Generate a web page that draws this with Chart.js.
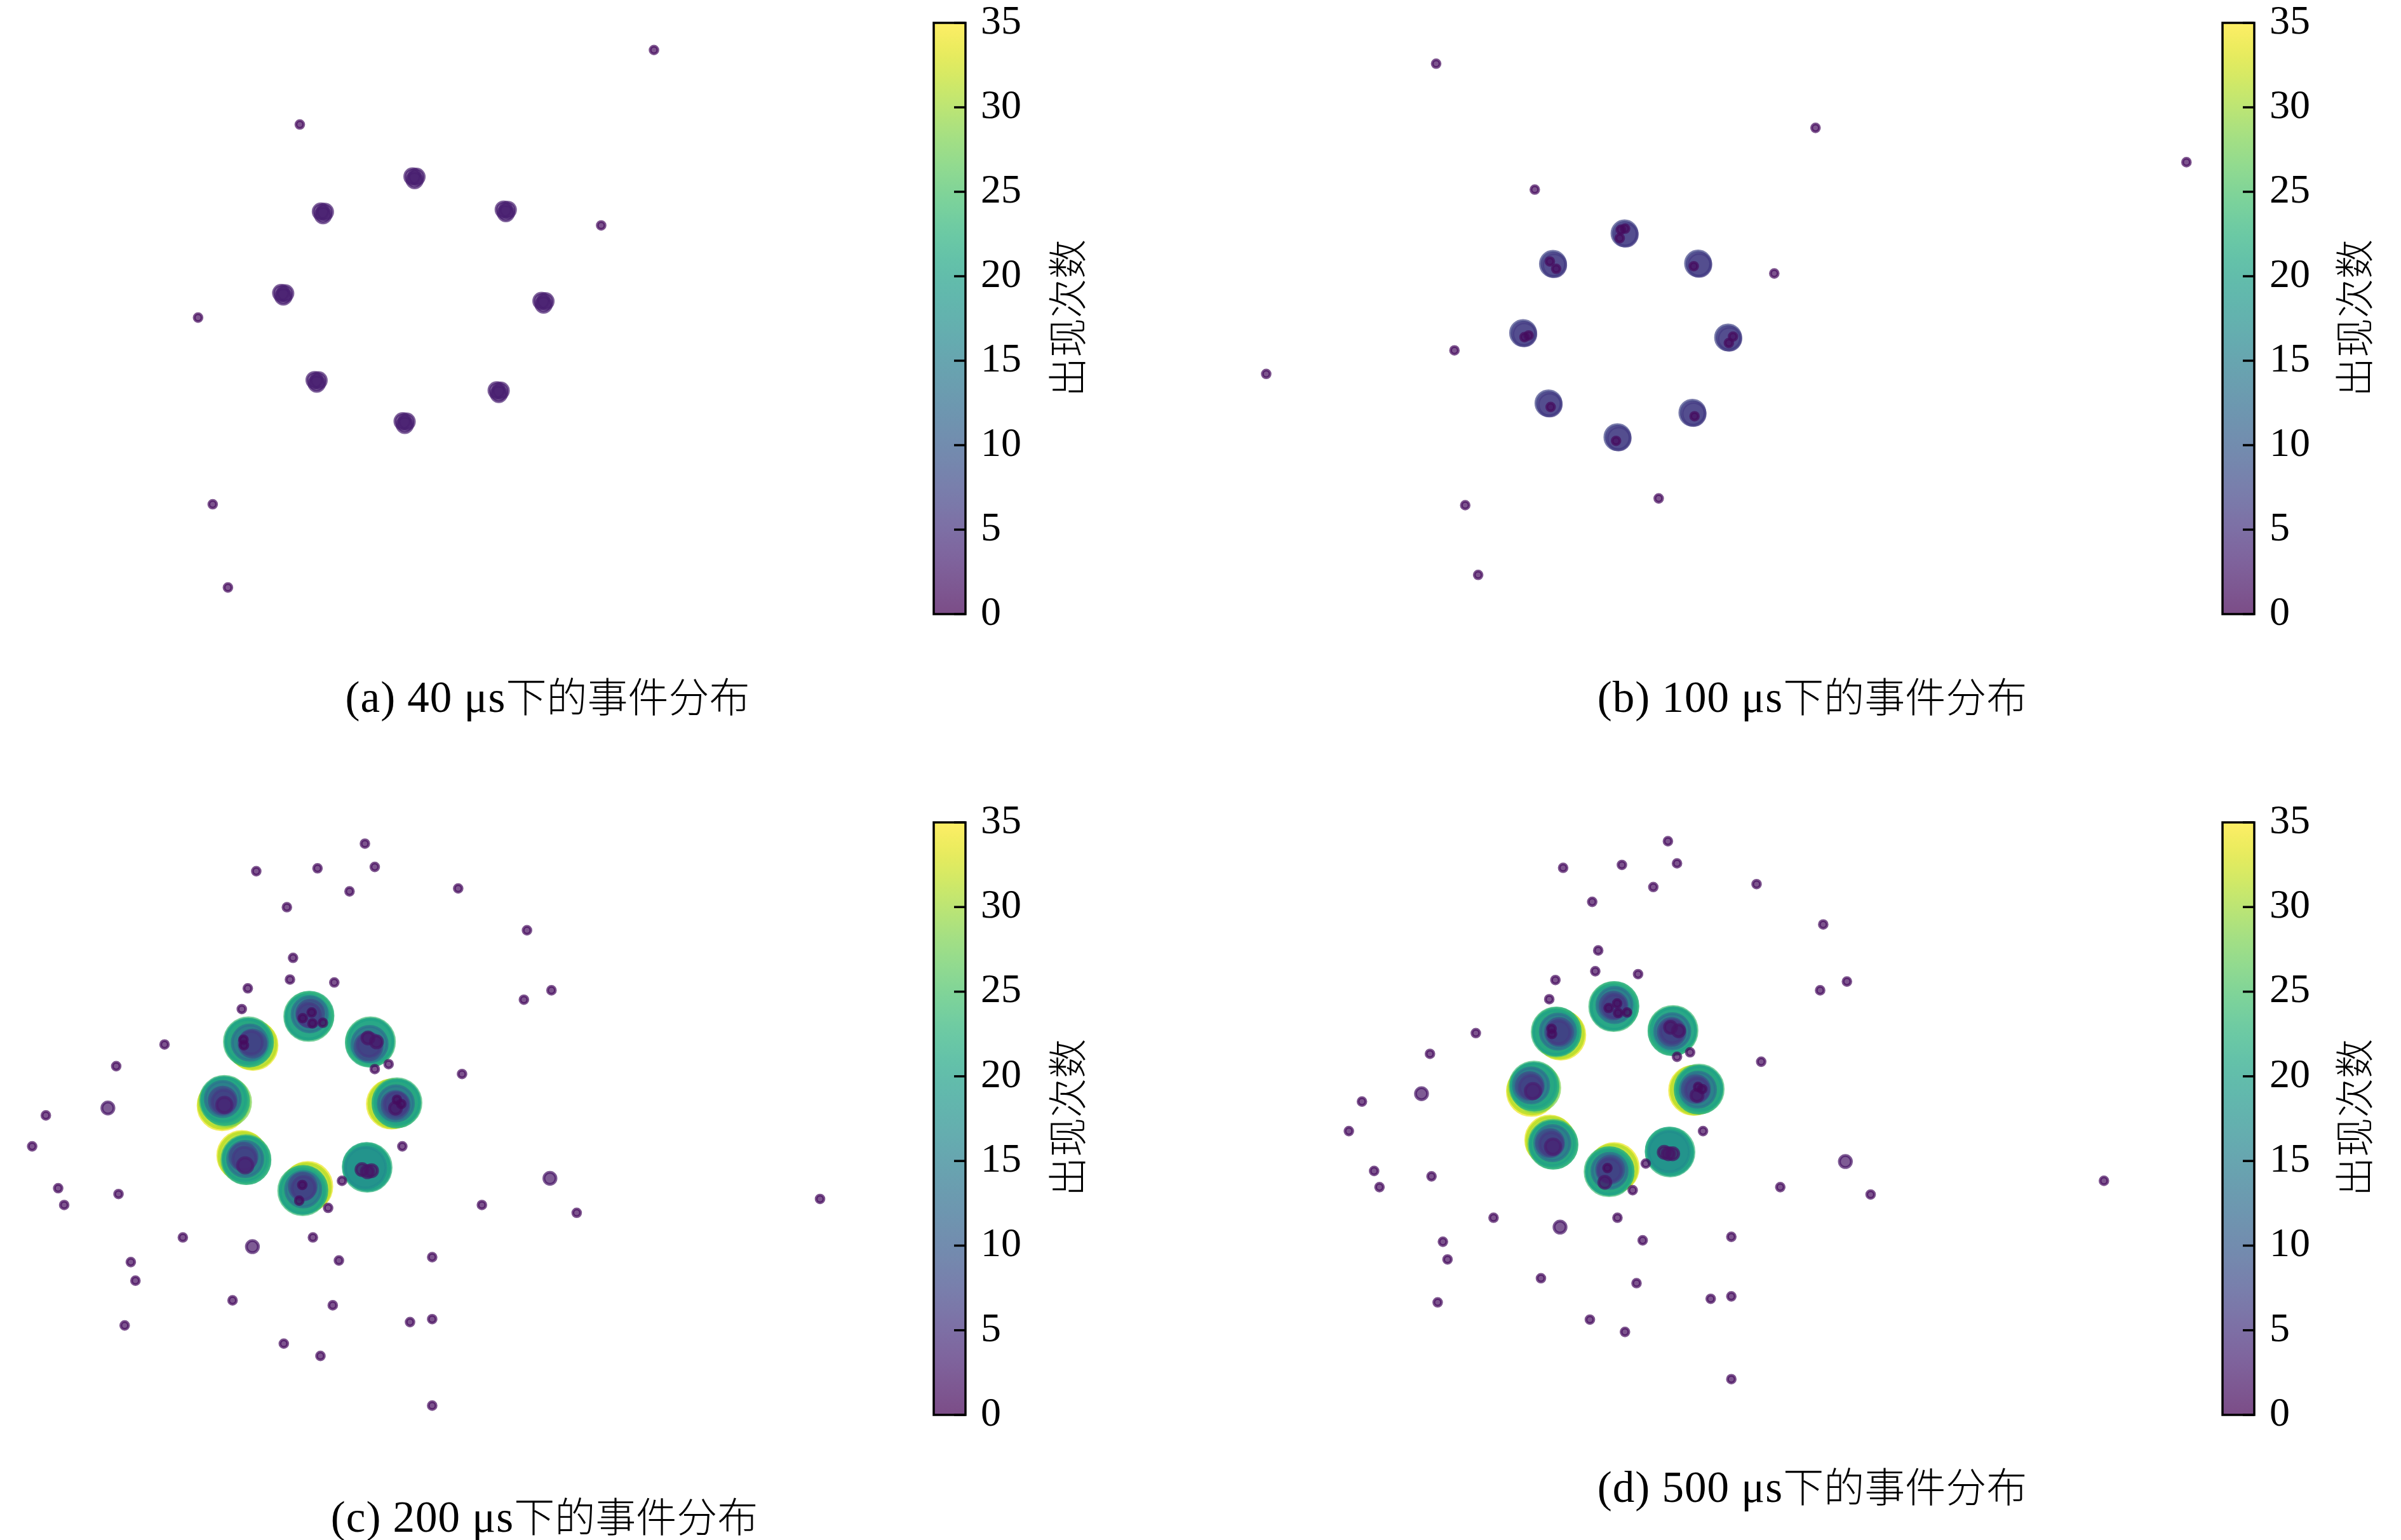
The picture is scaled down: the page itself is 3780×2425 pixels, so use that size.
<!DOCTYPE html>
<html><head><meta charset="utf-8">
<script src="https://cdn.jsdelivr.net/npm/chart.js@4.4.1/dist/chart.umd.min.js"></script>
<style>
html,body{margin:0;padding:0;background:#fff;}
body{width:3780px;height:2425px;position:relative;overflow:hidden;}
canvas{position:absolute;}
.cap{position:absolute;font-family:"Noto Sans CJK SC",sans-serif;font-size:64px;font-weight:300;color:#000;white-space:nowrap;transform:translate(-50%,-50%);line-height:1;}
.cap .lat{font-family:"Liberation Serif",serif;font-weight:400;font-size:69px;letter-spacing:1px;}
.cbl{position:absolute;font-family:"Noto Sans CJK SC",sans-serif;font-weight:300;font-size:62px;color:#000;white-space:nowrap;transform:translate(-50%,-50%) rotate(-90deg);line-height:1;}
</style></head><body>
<canvas id="sa" width="1890" height="1210" style="left:0;top:0"></canvas>
<canvas id="sb" width="1890" height="1210" style="left:1890px;top:0"></canvas>
<canvas id="sc" width="1890" height="1215" style="left:0;top:1210px"></canvas>
<canvas id="sd" width="1890" height="1215" style="left:1890px;top:1210px"></canvas>
<canvas id="ca" width="200" height="1051" style="left:1440px;top:-24px"></canvas>
<canvas id="cb" width="200" height="1051" style="left:3469px;top:-24px"></canvas>
<canvas id="cc" width="200" height="1053" style="left:1440px;top:1235px"></canvas>
<canvas id="cd" width="200" height="1053" style="left:3469px;top:1235px"></canvas>
<div class="cbl" style="left:1677px;top:501px"></div>
<div class="cbl" style="left:3703px;top:501px"></div>
<div class="cbl" style="left:1677px;top:1760px"></div>
<div class="cbl" style="left:3703px;top:1760px"></div>
<div class="cap" id="capa" style="left:862px;top:1097px"></div>
<div class="cap" id="capb" style="left:2853px;top:1097px"></div>
<div class="cap" id="capc" style="left:857px;top:2388px"></div>
<div class="cap" id="capd" style="left:2853px;top:2341px"></div>
<script>
// ---------- data ----------
const CAPTIONS = ['(a) 40 μs下的事件分布','(b) 100 μs下的事件分布','(c) 200 μs下的事件分布','(d) 500 μs下的事件分布'];
const CBAR_LABEL = '出现次数';
const CBAR_MIN = 0, CBAR_MAX = 35, CBAR_STEP = 5;

// panel (a): isolated events, then 8 clusters (3 overlapping events each)
const A_X = [424.9,194.8,390.6,128.7,138.2,148.1,
  268.0,270.6,269.4, 208.5,211.1,209.9, 327.3,329.9,328.7, 182.7,185.3,184.1,
  351.8,354.4,353.2, 204.4,207.0,205.8, 322.7,325.3,324.1, 261.6,264.2,263.0];
const A_Y = [32.5,80.9,146.5,206.4,327.7,381.8,
  114.7,114.9,117.0, 137.5,137.7,139.8, 136.2,136.4,138.5, 190.4,190.6,192.7,
  195.6,195.8,197.9, 247.0,247.2,249.3, 253.7,253.9,256.0, 273.8,274.0,276.1];
const A_V = [1,1,1,1,1,1, 3,3,3, 3,3,3, 3,3,3, 3,3,3, 3,3,3, 3,3,3, 3,3,3, 3,3,3];

// panel (b)
const B_X = [153.1,399.6,640.6,217.2,372.8,165.0,42.7,297.7,172.0,180.4,
  275.5,276.3,273.1,275.9,272.4, 229.0,229.8,227.0,231.1, 323.3,324.1,320.5,
  209.6,210.4,210.5,213.2, 342.8,343.6,343.3,346.0, 226.1,226.9,227.5,
  319.6,320.4,321.0, 270.9,271.7,270.0];
const B_Y = [41.4,83.1,105.4,123.2,177.7,227.7,243.0,323.9,328.3,373.6,
  151.7,152.5,149.3,148.6,154.8, 171.5,172.3,169.9,174.7, 171.3,172.1,173.0,
  216.4,217.2,219.1,218.0, 219.3,220.1,222.9,218.7, 262.1,262.9,264.5,
  268.2,269.0,270.5, 284.1,284.9,286.5];
const B_V = [1,1,1,1,1,1,1,1,1,1,
  7,6,1,1,1, 7,6,1,1, 7,6,1, 7,6,1,1, 7,6,1,1, 7,6,1, 7,6,1, 7,6,1];

// panel (c)
const C_X = [237.1,166.5,206.3,243.5,227.1,297.7,186.4,342.4,190.4,188.4,217.2,161.0,340.4,358.3,157.1,
  106.9,75.5,300.2,243.5,252.5,70.1,29.8,20.9,261.4,357.3,37.8,77.0,41.7,222.2,213.2,313.1,374.7,
  532.8,118.8,164.0,203.3,85.0,220.2,280.8,88.0,151.1,216.2,81.0,266.4,280.8,184.4,208.2,280.8,
  200.6,201.2,200.0,201.2,201.6,200.8,196.7,202.5,203.0,209.8,
  164.4,163.8,161.4,161.9,161.0,162.3,164.0,163.2,158.2,158.5,
  240.7,240.2,241.0,240.1,239.4,239.8,239.1,244.6,
  144.3,144.7,147.2,145.8,146.2,145.4,144.7,144.7,145.3,145.8,
  254.3,255.3,257.9,257.5,258.2,257.2,257.0,257.4,257.9,257.0,260.7,
  157.1,157.8,159.8,160.2,159.4,159.3,158.2,158.8,159.3,
  200.0,199.1,196.7,197.2,196.4,197.0,196.7,197.2,196.4,194.4,
  238.6,237.9,239.0,237.5,235.2,238.7,241.4];
const C_Y = [48.9,66.8,64.9,64.0,79.9,78.0,90.2,105.2,123.1,137.2,139.1,142.9,150.3,144.2,156.4,
  179.4,193.5,198.6,195.4,192.2,220.7,225.5,245.6,245.6,266.4,272.8,276.6,283.7,268.0,285.6,283.7,288.8,
  279.8,304.8,310.8,304.8,320.8,319.8,317.6,332.9,345.7,348.9,362.0,359.8,357.9,373.8,381.8,414.1,
  161.2,160.6,161.6,159.8,159.3,160.3,162.3,158.6,165.7,165.3,
  180.0,179.5,177.7,178.3,177.4,178.2,178.8,178.3,176.3,179.9,
  177.7,178.4,177.2,179.1,180.7,179.8,175.2,177.7,
  219.2,218.2,216.9,215.7,216.3,215.2,214.8,215.9,216.5,218.7,
  218.1,217.9,217.3,217.8,216.9,217.7,218.7,218.2,215.3,220.8,218.1,
  251.5,252.2,254.2,254.6,253.8,253.8,252.4,253.6,258.0,
  271.7,272.4,274.4,273.8,274.8,273.5,271.7,272.6,270.7,280.9,
  259.3,258.6,259.8,259.5,260.7,262.1,261.4];
const C_V = [1,1,1,1,1,1,1,1,1,1,1,1,1,1,1,
  1,1,1,1,1,2,1,1,1,2,1,1,1,1,1,1,1,
  1,1,2,1,1,1,1,1,1,1,1,1,1,1,1,1,
  24,22,20,13,8,6,1,1,1,1,
  34,31,24,22,20,13,8,6,1,1,
  24,22,20,13,8,6,2,2,
  34,31,28,24,22,20,13,8,6,3,
  34,31,24,22,20,13,8,6,1,2,1,
  34,31,24,22,20,13,8,6,3,
  34,31,24,22,20,13,8,6,1,1,
  23,21,20,17,2,2,2];

// panel (d)
const D_X = [303.7,235.6,273.8,309.6,294.2,361.3,254.5,404.6,258.4,256.5,284.3,230.6,402.6,420.0,226.6,
  178.9,149.1,364.3,309.6,318.1,143.6,104.9,96.4,326.5,419.0,112.8,150.1,116.3,289.3,280.8,376.7,435.4,
  587.0,190.4,233.6,270.9,157.5,287.3,344.9,160.5,221.2,283.3,154.1,331.5,344.9,253.0,275.8,344.9,
  268.5,269.0,268.1,269.0,268.3,268.8,265.2,270.7,271.3,277.2,
  234.1,233.3,231.1,231.5,230.8,232.2,233.0,232.6,228.1,228.4,
  307.0,306.6,307.3,306.5,306.1,306.4,305.4,310.6,
  215.0,215.5,217.8,216.7,216.9,216.3,214.8,213.9,214.6,216.0,
  320.4,321.4,324.0,323.6,324.3,323.2,321.9,322.6,323.3,322.6,326.0,
  226.9,227.5,229.0,229.4,228.6,228.6,227.1,227.8,229.0,
  268.8,267.9,265.5,265.9,265.2,265.8,266.2,265.8,264.4,262.7,
  305.1,304.4,305.5,304.4,301.3,304.0,306.8];
const D_Y = [47.3,64.6,62.7,61.7,77.1,75.2,86.7,101.4,118.3,131.8,133.7,137.5,144.2,138.5,150.0,
  172.0,185.5,190.6,187.4,184.5,211.4,216.5,235.7,235.7,255.5,261.6,265.1,272.1,256.8,274.1,272.1,276.9,
  268.0,292.0,298.1,292.0,307.6,306.7,304.4,319.1,331.3,334.5,347.0,344.7,343.1,358.2,366.2,396.9,
  154.8,154.3,155.3,153.8,154.2,154.6,155.7,152.7,158.9,158.6,
  173.3,172.7,171.3,171.0,171.6,171.0,171.3,171.5,169.2,172.6,
  170.3,170.9,169.9,170.8,171.3,171.0,168.3,170.5,
  209.9,208.9,207.6,206.4,206.9,206.1,206.0,206.4,207.0,209.7,
  209.2,209.0,208.4,208.9,208.0,208.8,208.4,208.8,207.0,212.5,208.4,
  241.5,242.2,244.2,244.6,243.9,243.5,243.5,244.0,245.8,
  259.4,260.1,262.1,261.7,262.4,261.5,260.7,261.2,259.7,269.0,
  249.3,248.6,249.8,249.0,249.5,250.4,250.4];
const D_V = [1,1,1,1,1,1,1,1,1,1,1,1,1,1,1,
  1,1,1,1,1,2,1,1,1,2,1,1,1,1,1,1,1,
  1,1,2,1,1,1,1,1,1,1,1,1,1,1,1,1,
  24,22,20,13,8,6,1,1,1,1,
  34,31,24,22,20,13,8,6,1,1,
  24,22,20,13,8,6,2,2,
  34,31,28,24,22,20,13,8,6,3,
  34,31,24,22,20,13,8,6,1,2,1,
  34,31,24,22,20,13,8,6,3,
  34,31,24,22,20,13,8,6,1,2,
  23,21,20,17,2,2,2];

// ---------- styling ----------
const VIRIDIS = ['#440154','#471365','#482475','#463480','#414487','#3b528b','#355f8d','#2f6c8e',
  '#2a788e','#25848e','#21918c','#1e9c89','#22a884','#2fb47c','#44bf70','#5ec962','#7ad151',
  '#9bd93c','#bddf26','#dfe318','#fde725'];
const ALPHA = 0.7;
function hex(c){return [parseInt(c.slice(1,3),16),parseInt(c.slice(3,5),16),parseInt(c.slice(5,7),16)];}
function viridis(t,a){
  t=Math.max(0,Math.min(1,t));
  const n=VIRIDIS.length-1, f=t*n, i=Math.min(n-1,Math.floor(f)), u=f-i;
  const p=hex(VIRIDIS[i]), q=hex(VIRIDIS[i+1]);
  const r=p.map((v,k)=>Math.round(v+(q[k]-v)*u));
  return 'rgba('+r[0]+','+r[1]+','+r[2]+','+a+')';
}
const BW = 4.5;
function markerR(v){ return Math.min(8.3*Math.sqrt(v), 40); }
function colorOf(c){ return c.raw ? viridis(c.raw.v/CBAR_MAX, ALPHA) : 'rgba(0,0,0,0)'; }

function makeScatter(id, X, Y, V, ymax){
  const pts = X.map((x,i)=>({x:x, y:Y[i], v:V[i]})).sort((p,q)=>q.v-p.v);
  new Chart(document.getElementById(id), {
    type:'scatter',
    data:{datasets:[{data:pts,
      pointRadius: c => c.raw ? markerR(c.raw.v)-BW/2 : 5,
      pointBorderWidth: BW,
      pointBackgroundColor: colorOf,
      pointBorderColor: colorOf,
      clip:false}]},
    options:{responsive:false, animation:false, devicePixelRatio:1, events:[],
      layout:{padding:0, autoPadding:false},
      plugins:{legend:{display:false}, tooltip:{enabled:false}},
      scales:{x:{type:'linear', min:0, max:780, display:false},
              y:{type:'linear', min:0, max:ymax, reverse:true, display:false}}}
  });
}
makeScatter('sa', A_X, A_Y, A_V, 1210/2.4231);
makeScatter('sb', B_X, B_Y, B_V, 1210/2.4231);
makeScatter('sc', C_X, C_Y, C_V, 1215/2.4231);
makeScatter('sd', D_X, D_Y, D_V, 1215/2.4231);

const framePlugin = {
  id:'cbframe',
  afterDatasetsDraw(chart){
    const ctx=chart.ctx, a=chart.chartArea, y=chart.scales.y;
    ctx.save();
    ctx.strokeStyle='#000'; ctx.lineWidth=3.5;
    y.ticks.forEach(t=>{
      const py=y.getPixelForValue(t.value);
      ctx.beginPath(); ctx.moveTo(a.right-18,py); ctx.lineTo(a.right,py); ctx.stroke();
    });
    ctx.strokeRect(a.left,a.top,a.right-a.left,a.bottom-a.top);
    ctx.restore();
  }
};
function makeCbar(id){
  new Chart(document.getElementById(id), {
    type:'bar',
    data:{labels:[''], datasets:[{data:[CBAR_MAX], barPercentage:1, categoryPercentage:1, borderWidth:0,
      backgroundColor: c => {
        const a=c.chart.chartArea; if(!a) return 'rgba(0,0,0,0)';
        const g=c.chart.ctx.createLinearGradient(0,a.bottom,0,a.top);
        for(let i=0;i<=50;i++){ g.addColorStop(i/50, viridis(i/50, ALPHA)); }
        return g;
      }}]},
    options:{responsive:false, animation:false, devicePixelRatio:1, events:[],
      layout:{padding:{left:30,right:0,top:60,bottom:60}},
      plugins:{legend:{display:false}, tooltip:{enabled:false}},
      scales:{
        x:{display:false},
        y:{position:'right', min:CBAR_MIN, max:CBAR_MAX,
           grid:{display:false, drawTicks:false}, border:{display:false},
           ticks:{stepSize:CBAR_STEP, padding:24, color:'#000',
                  font:{family:'"Liberation Serif", serif', size:64, lineHeight:1}},
           afterFit: s => { s.width = 120; }}
      }},
    plugins:[framePlugin]
  });
}
['ca','cb','cc','cd'].forEach(makeCbar);
['capa','capb','capc','capd'].forEach((id,i)=>{
  const el=document.getElementById(id), s=CAPTIONS[i];
  const k=s.search(/[\u4e00-\u9fff]/);
  const lat=document.createElement('span'); lat.className='lat'; lat.textContent=s.slice(0,k);
  el.appendChild(lat); el.appendChild(document.createTextNode(s.slice(k)));
});
document.querySelectorAll('.cbl').forEach(el=>{ el.textContent = CBAR_LABEL; });
</script>
</body></html>
